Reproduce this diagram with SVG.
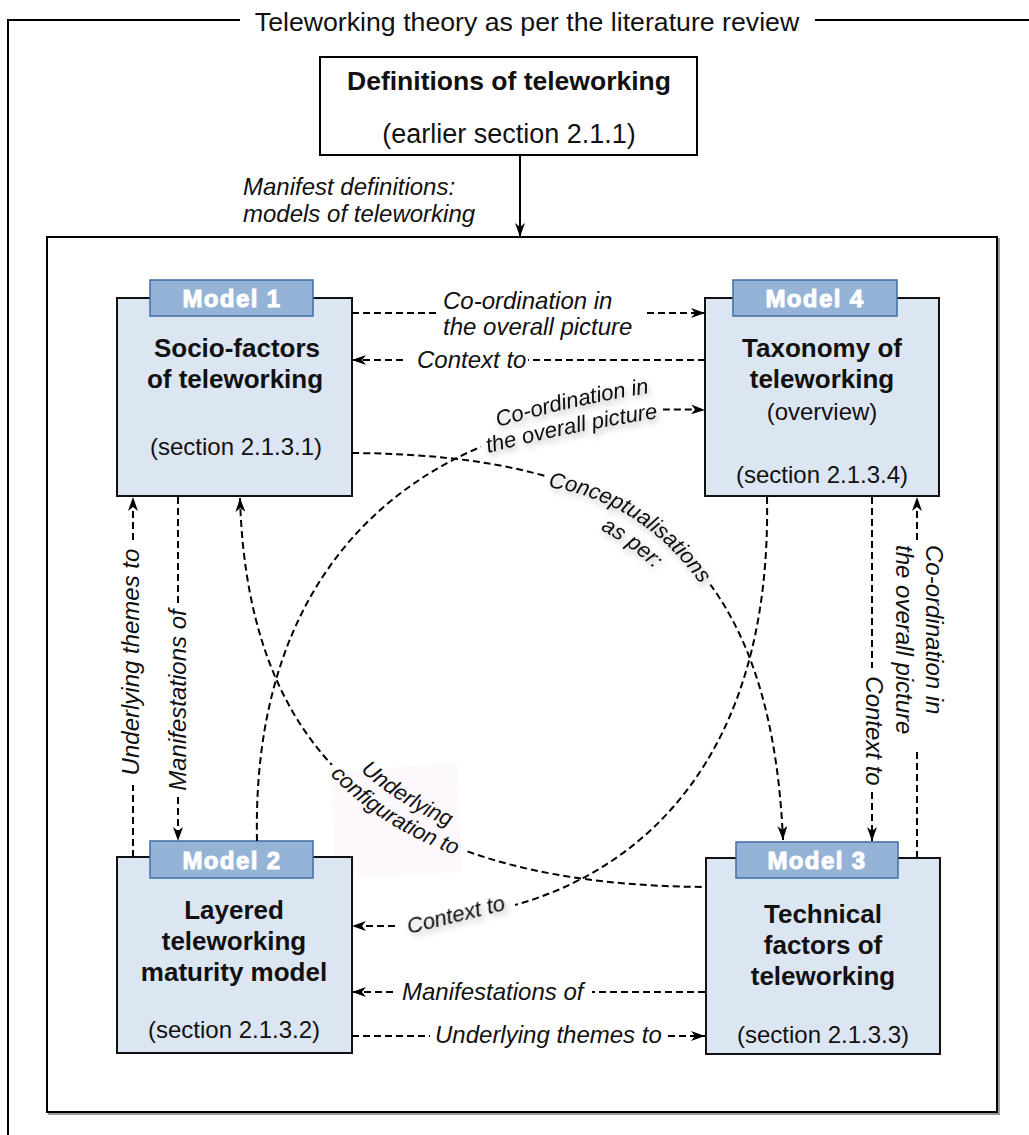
<svg xmlns="http://www.w3.org/2000/svg" xmlns:xlink="http://www.w3.org/1999/xlink" width="1029" height="1135" viewBox="0 0 1029 1135">
<style>
text{font-family:"Liberation Sans",Arial,Helvetica,sans-serif;fill:#111}
.frame{fill:none;stroke:#000;stroke-width:2}
.box{fill:#dce6f2;stroke:#111;stroke-width:2}
.tab{fill:#95b3d7;stroke:#3f6ea6;stroke-width:1.5}
.tabt{font-size:24px;font-weight:bold;fill:#fff;stroke:#fff;stroke-width:1;letter-spacing:1.4px;text-anchor:middle}
.ttl{font-size:26px;font-weight:bold;text-anchor:middle}
.sec{font-size:24px;text-anchor:middle}
.lbl{font-size:24px;font-style:italic}
.clbl{font-size:22px;font-style:italic}
.dash{fill:none;stroke:#000;stroke-width:2;stroke-dasharray:7 4}
.solid{fill:none;stroke:#000;stroke-width:2}
.mk{fill:#000;stroke:#000;stroke-width:14;stroke-linejoin:round}
</style>
<defs>
<marker id="ah" viewBox="0 0 14 10" refX="14" refY="5" markerWidth="14" markerHeight="10" markerUnits="userSpaceOnUse" orient="auto-start-reverse">
<path d="M0,0 L14,5 L0,10 L4,5 Z" fill="#000"/>
</marker>
<filter id="sh" x="-20%" y="-30%" width="140%" height="180%">
<feGaussianBlur in="SourceAlpha" stdDeviation="3"/>
<feOffset dx="2" dy="4" result="b"/>
<feComponentTransfer><feFuncA type="linear" slope="0.3"/></feComponentTransfer>
<feMerge><feMergeNode/><feMergeNode in="SourceGraphic"/></feMerge>
</filter>
<path id="pA1" d="M498,427 Q575,404 662,391"/>
<path id="pA2" d="M488,453 Q575,430 672,416"/>
<path id="pB1" d="M548,487 Q652,503 712,602"/>
<path id="pB2" d="M536,508 Q638,527 696,622"/>
<path id="pC1" d="M331,740 Q389,810 487,841"/>
<path id="pC2" d="M317,760 Q375,830 473,861"/>
<text id="tA1" class="clbl"><textPath href="#pA1">Co-ordination in</textPath></text>
<text id="tA2" class="clbl"><textPath href="#pA2">the overall picture</textPath></text>
<text id="tB1" class="clbl"><textPath href="#pB1">Conceptualisations</textPath></text>
<text id="tB2" class="clbl"><textPath href="#pB2" startOffset="68">as per:</textPath></text>
<text id="tC1" class="clbl" text-anchor="middle"><textPath href="#pC1" startOffset="95">Underlying</textPath></text>
<text id="tC2" class="clbl" text-anchor="middle"><textPath href="#pC2" startOffset="95">configuration to</textPath></text>
<mask id="mA" maskUnits="userSpaceOnUse" x="0" y="0" width="1029" height="1135">
<rect x="0" y="0" width="1029" height="1135" fill="#fff"/>
<use href="#tA1" class="mk"/><use href="#tA2" class="mk"/>
</mask>
<mask id="mB" maskUnits="userSpaceOnUse" x="0" y="0" width="1029" height="1135">
<rect x="0" y="0" width="1029" height="1135" fill="#fff"/>
<use href="#tB1" class="mk"/><use href="#tB2" class="mk"/>
</mask>
<mask id="mC" maskUnits="userSpaceOnUse" x="0" y="0" width="1029" height="1135">
<rect x="0" y="0" width="1029" height="1135" fill="#fff"/>
<use href="#tC1" class="mk"/><use href="#tC2" class="mk"/>
</mask>
</defs>
<rect width="1029" height="1135" fill="#fff"/>

<g id="outer-frame">
<path class="frame" d="M8,1135 L8,20 L240,20 M815,20 L1029,20"/>
<text x="527" y="31" font-size="26.7" text-anchor="middle">Teleworking theory as per the literature review</text>
</g>

<g id="definitions">
<rect x="320" y="57" width="377" height="98" fill="#fff" stroke="#000" stroke-width="2"/>
<text x="509" y="90" font-size="26.5" font-weight="bold" text-anchor="middle">Definitions of teleworking</text>
<text x="509" y="143" font-size="27" text-anchor="middle">(earlier section 2.1.1)</text>
</g>

<g id="models-frame">
<rect x="49" y="239" width="950" height="875" fill="none" stroke="#999" stroke-width="2"/>
<rect x="47" y="237" width="950" height="875" fill="#fff" stroke="#000" stroke-width="2"/>
</g>

<polygon points="331,773 457,762 462,872 336,880" fill="#fcf8fc"/>

<g id="model1">
<rect class="box" x="117" y="298" width="235" height="198"/>
<rect class="tab" x="150" y="280" width="163" height="36"/>
<text class="tabt" x="232" y="307">Model 1</text>
<text class="ttl" x="237" y="357">Socio-factors</text>
<text class="ttl" x="235" y="388">of teleworking</text>
<text class="sec" x="236" y="455">(section 2.1.3.1)</text>
</g>

<g id="model4">
<rect class="box" x="705" y="298" width="234" height="198"/>
<rect class="tab" x="733" y="280" width="164" height="36"/>
<text class="tabt" x="815" y="307">Model 4</text>
<text class="ttl" x="822" y="357">Taxonomy of</text>
<text class="ttl" x="822" y="388">teleworking</text>
<text class="sec" x="822" y="420">(overview)</text>
<text class="sec" x="822" y="483">(section 2.1.3.4)</text>
</g>

<g id="model2">
<rect class="box" x="117" y="857" width="235" height="196"/>
<rect class="tab" x="150" y="841" width="163" height="37"/>
<text class="tabt" x="232" y="869">Model 2</text>
<text class="ttl" x="234" y="919">Layered</text>
<text class="ttl" x="234" y="950">teleworking</text>
<text class="ttl" x="234" y="981">maturity model</text>
<text class="sec" x="234" y="1038">(section 2.1.3.2)</text>
</g>

<g id="model3">
<rect class="box" x="706" y="858" width="234" height="196"/>
<rect class="tab" x="736" y="842" width="162" height="36"/>
<text class="tabt" x="817" y="869">Model 3</text>
<text class="ttl" x="823" y="923">Technical</text>
<text class="ttl" x="823" y="954">factors of</text>
<text class="ttl" x="823" y="985">teleworking</text>
<text class="sec" x="823" y="1043">(section 2.1.3.3)</text>
</g>

<g id="connectors">
<!-- definitions to models frame -->
<path class="solid" d="M520,155 L520,237" marker-end="url(#ah)"/>
<text class="lbl" x="243" y="195">Manifest definitions:</text>
<text class="lbl" x="243" y="222">models of teleworking</text>

<!-- Model1 -> Model4 co-ordination -->
<path class="dash" d="M352,313 L440,313"/>
<path class="dash" d="M647,313 L705,313" marker-end="url(#ah)"/>
<text class="lbl" x="443" y="309" font-size="23">Co-ordination in</text>
<text class="lbl" x="443" y="335" font-size="23">the overall picture</text>

<!-- Model4 -> Model1 context -->
<path class="dash" d="M403,360 L352,360" marker-end="url(#ah)"/>
<path class="dash" d="M705,360 L528,360"/>
<text class="lbl" x="417" y="368">Context to</text>

<!-- Model3 -> Model2 manifestations -->
<path class="dash" d="M393,992 L352,992" marker-end="url(#ah)"/>
<path class="dash" d="M705,992 L592,992"/>
<text class="lbl" x="402" y="1000">Manifestations of</text>

<!-- Model2 -> Model3 underlying themes -->
<path class="dash" d="M352,1036 L430,1036"/>
<path class="dash" d="M668,1036 L705,1036" marker-end="url(#ah)"/>
<text class="lbl" x="435" y="1043">Underlying themes to</text>

<!-- Model2 -> Model1 underlying themes (vertical) -->
<path class="dash" d="M133,857 L133,785"/>
<path class="dash" d="M133,540 L133,497" marker-end="url(#ah)"/>
<text class="lbl" text-anchor="middle" transform="translate(139,662) rotate(-90)">Underlying themes to</text>

<!-- Model1 -> Model2 manifestations (vertical) -->
<path class="dash" d="M178,497 L178,603"/>
<path class="dash" d="M178,797 L178,841" marker-end="url(#ah)"/>
<text class="lbl" text-anchor="middle" transform="translate(186,700) rotate(-90)">Manifestations of</text>

<!-- Model4 -> Model3 context (vertical) -->
<path class="dash" d="M872,497 L872,668"/>
<path class="dash" d="M872,792 L872,841" marker-end="url(#ah)"/>
<text class="lbl" text-anchor="middle" transform="translate(866,731) rotate(90)">Context to</text>

<!-- Model3 -> Model4 co-ordination (vertical) -->
<path class="dash" d="M917,858 L917,748"/>
<path class="dash" d="M917,540 L917,497" marker-end="url(#ah)"/>
<text class="lbl" transform="translate(926,545) rotate(90)">Co-ordination in</text>
<text class="lbl" transform="translate(896,545) rotate(90)">the overall picture</text>

<!-- Model2 -> Model4 co-ordination (curve) -->
<path class="dash" d="M257,841 C250,520 470,400 705,410" marker-end="url(#ah)" mask="url(#mA)"/>
<g filter="url(#sh)"><use href="#tA1"/><use href="#tA2"/></g>

<!-- Model1 -> Model3 conceptualisations (curve) -->
<path class="dash" d="M352,453 C620,455 770,540 783,840" marker-end="url(#ah)" mask="url(#mB)"/>
<g filter="url(#sh)"><use href="#tB1"/><use href="#tB2"/></g>

<!-- Model3 -> Model1 underlying configuration (curve) -->
<path class="dash" d="M240,498 C248,775 410,885 706,887" marker-start="url(#ah)" mask="url(#mC)"/>
<g><use href="#tC1"/><use href="#tC2"/></g>

<!-- Model4 -> Model2 context (curve) -->
<path class="dash" d="M767,497 C772,760 640,870 515,905"/>
<path class="dash" d="M395,926 L352,926" marker-end="url(#ah)"/>
<text class="clbl" x="409" y="934" transform="rotate(-14 409 934)" filter="url(#sh)">Context to</text>
</g>
</svg>
